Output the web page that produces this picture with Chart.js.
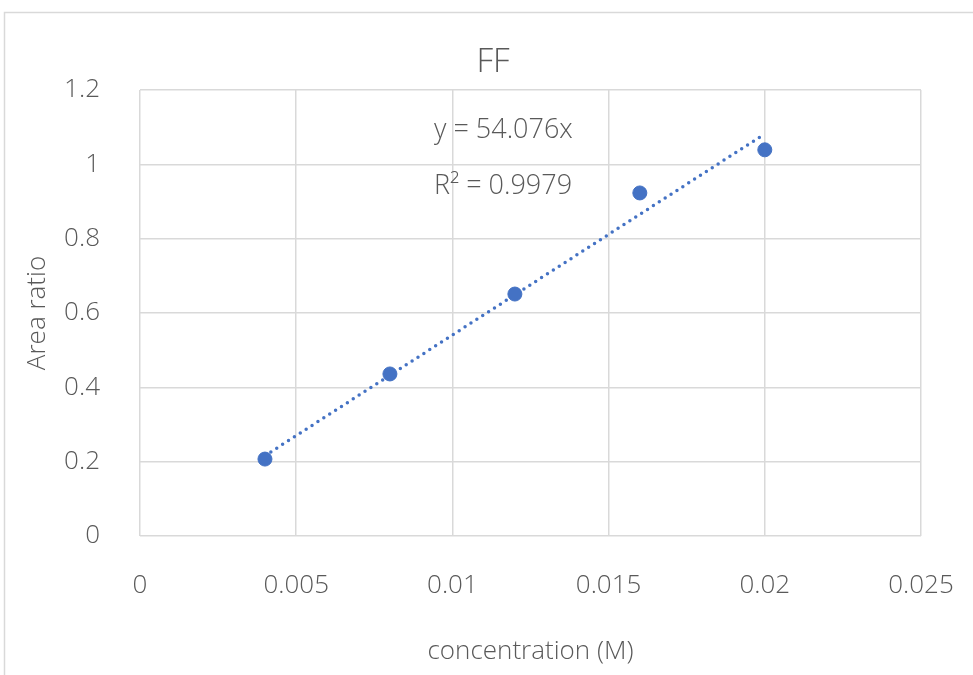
<!DOCTYPE html>
<html>
<head>
<meta charset="utf-8">
<script src="https://cdn.jsdelivr.net/npm/chart.js@4"></script>
<style>
  html, body { margin: 0; padding: 0; background: #fff; }
  #wrap { position: relative; width: 973px; height: 675px; }
</style>
</head>
<body>
<div id="wrap"><canvas id="chart" width="973" height="675"></canvas></div>
<script>
// measured data
const concentration = [0.004, 0.008, 0.012, 0.016, 0.02];
const areaRatio = [0.207, 0.436, 0.651, 0.923, 1.039];

// linear trendline (through origin), endpoints
const trendX = [0.004, 0.02];
const trendY = [0.216, 1.082];

const xTicks = [0, 0.005, 0.01, 0.015, 0.02, 0.025];
const yTicks = [0, 0.2, 0.4, 0.6, 0.8, 1, 1.2];

const chartTitle = 'FF';
const equation = 'y = 54.076x';
const rSquared = 'R² = 0.9979';

const textColor = '#595959';
const gridColor = '#d9d9d9';
const blue = '#4472C4';
const fontFamily = "'Open Sans', 'Noto Sans', sans-serif";

// outer frame, title and trendline label
const decorations = {
  id: 'decorations',
  beforeDraw(chart) {
    const ctx = chart.ctx;
    ctx.save();
    ctx.fillStyle = '#fff';
    ctx.fillRect(0, 0, chart.width, chart.height);
    ctx.strokeStyle = gridColor;
    ctx.lineWidth = 1.5;
    ctx.strokeRect(4.5, 12.5, 1100, 800);
    ctx.fillStyle = textColor;
    ctx.font = '300 33px ' + fontFamily;
    ctx.textAlign = 'center';
    ctx.textBaseline = 'middle';
    ctx.fillText(chartTitle, 493, 63);
    ctx.restore();
  },
  afterDatasetsDraw(chart) {
    const ctx = chart.ctx;
    ctx.save();
    ctx.fillStyle = textColor;
    ctx.font = '300 27px ' + fontFamily;
    ctx.textAlign = 'left';
    ctx.textBaseline = 'middle';
    ctx.fillText(equation, 434, 130);
    ctx.fillText(rSquared, 434, 186);
    ctx.restore();
  }
};

new Chart(document.getElementById('chart'), {
  type: 'scatter',
  data: {
    datasets: [
      {
        label: 'FF',
        data: concentration.map((c, i) => ({ x: c, y: areaRatio[i] })),
        backgroundColor: blue,
        borderColor: blue,
        pointRadius: 7,
        pointHoverRadius: 7,
        order: 1
      },
      {
        label: 'Linear (FF)',
        type: 'line',
        data: trendX.map((c, i) => ({ x: c, y: trendY[i] })),
        borderColor: blue,
        borderWidth: 3.5,
        borderDash: [0, 7],
        borderCapStyle: 'round',
        pointRadius: 0,
        fill: false,
        order: 2
      }
    ]
  },
  options: {
    responsive: false,
    animation: false,
    layout: { padding: { left: 0, right: 52, top: 90, bottom: 0 } },
    plugins: {
      legend: { display: false },
      tooltip: { enabled: false },
      title: { display: false }
    },
    scales: {
      x: {
        type: 'linear',
        min: 0,
        max: 0.025,
        afterBuildTicks: (s) => { s.ticks = xTicks.map(v => ({ value: v })); },
        afterFit: (s) => { s.height = 139; s.paddingLeft = 0; s.paddingRight = 0; },
        ticks: {
          color: textColor,
          font: { family: fontFamily, size: 26, weight: 300 },
          padding: 34,
          maxRotation: 0,
          callback: (v) => String(v)
        },
        grid: { color: gridColor, lineWidth: 1.5, drawTicks: false },
        border: { display: false },
        title: {
          display: true,
          text: 'concentration (M)',
          color: textColor,
          font: { family: fontFamily, size: 26, weight: 300, lineHeight: 1.2 },
          padding: { top: 0, bottom: 8 }
        }
      },
      y: {
        min: 0,
        max: 1.2,
        afterBuildTicks: (s) => { s.ticks = yTicks.map(v => ({ value: v })); },
        afterFit: (s) => { s.width = 140; s.paddingTop = 0; s.paddingBottom = 0; },
        ticks: {
          color: textColor,
          font: { family: fontFamily, size: 26, weight: 300 },
          padding: 40,
          callback: (v) => String(v)
        },
        grid: { color: gridColor, lineWidth: 1.5, drawTicks: false },
        border: { display: false },
        title: {
          display: true,
          text: 'Area ratio',
          color: textColor,
          font: { family: fontFamily, size: 26, weight: 300, lineHeight: 1.2 },
          padding: { top: 22, bottom: 0 }
        }
      }
    }
  },
  plugins: [decorations]
});
</script>
</body>
</html>
